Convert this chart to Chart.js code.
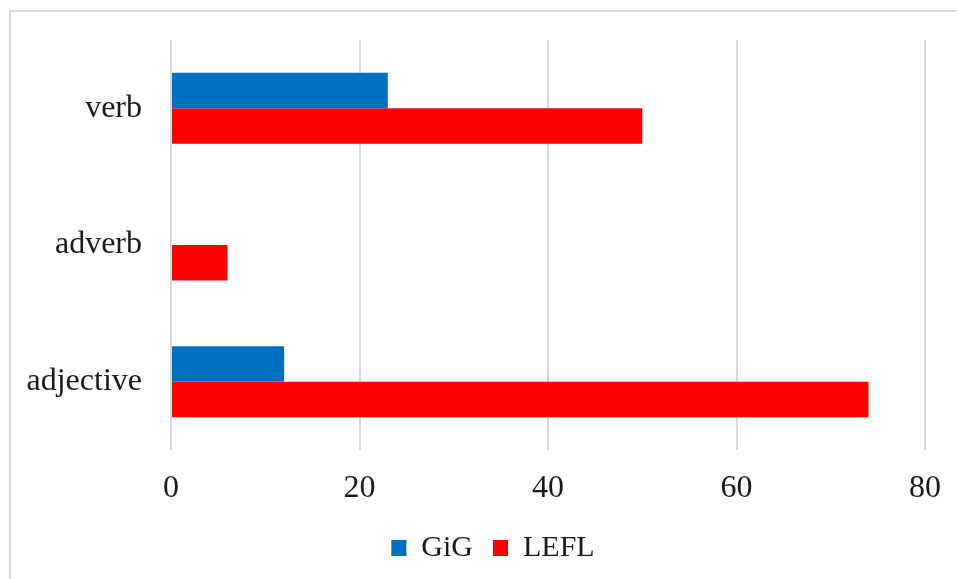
<!DOCTYPE html>
<html>
<head>
<meta charset="utf-8">
<script src="https://cdn.jsdelivr.net/npm/chart.js@4.4.1/dist/chart.umd.min.js"></script>
<style>
  html, body { margin: 0; padding: 0; background: #ffffff; }
  #wrap { width: 957px; height: 579px; position: relative; }
</style>
</head>
<body>
<div id="wrap"><canvas id="chart" width="957" height="579"></canvas></div>
<script>
// Word classes, top to bottom
const categories = ['verb', 'adverb', 'adjective'];
// Counts per corpus
const gigValues = [23, 0, 12];
const leflValues = [50, 6, 74];
// Value axis ticks
const xTicks = [0, 20, 40, 60, 80];

const FONT = "'Liberation Serif', 'Times New Roman', serif";
const TEXT = '#1a1a1a';
const GRID = '#d9d9d9';

// Light frame around the chart area (top and left edges)
const framePlugin = {
  id: 'frame',
  beforeDraw(chart) {
    const ctx = chart.ctx;
    ctx.save();
    ctx.strokeStyle = GRID;
    ctx.lineWidth = 2;
    ctx.beginPath();
    ctx.moveTo(10, chart.height + 5);
    ctx.lineTo(10, 11);
    ctx.lineTo(chart.width + 5, 11);
    ctx.stroke();
    ctx.restore();
  }
};

// Nudge the legend a little to the right
const legendShift = {
  id: 'legendShift',
  afterLayout(chart) {
    if (chart.legend) {
      chart.legend.left += 17;
      chart.legend.right += 17;
    }
  }
};

new Chart(document.getElementById('chart'), {
  type: 'bar',
  data: {
    labels: categories,
    datasets: [
      { label: 'GiG', data: gigValues, backgroundColor: '#0070C0', borderWidth: 0 },
      { label: 'LEFL', data: leflValues, backgroundColor: '#FF0000', borderWidth: 0 }
    ]
  },
  options: {
    indexAxis: 'y',
    responsive: false,
    animation: false,
    devicePixelRatio: 1,
    categoryPercentage: 0.52,
    barPercentage: 1.0,
    layout: { padding: { left: 27, right: 32, top: 40, bottom: 6 } },
    plugins: {
      legend: {
        position: 'bottom',
        labels: {
          font: { family: FONT, size: 30 },
          color: TEXT,
          boxWidth: 15,
          boxHeight: 16,
          padding: 20
        }
      },
      tooltip: { enabled: false }
    },
    scales: {
      x: {
        min: 0,
        max: 80,
        afterBuildTicks(scale) { scale.ticks = xTicks.map(v => ({ value: v })); },
        afterFit(scale) {
          scale.height = 63;
          scale.paddingLeft = 0;
          scale.paddingRight = 0;
        },
        grid: { color: GRID, lineWidth: 2, drawTicks: false },
        border: { display: false },
        ticks: { font: { family: FONT, size: 32 }, color: TEXT, padding: 19 }
      },
      y: {
        afterFit(scale) {
          scale.width = 144;
          scale.paddingTop = 0;
          scale.paddingBottom = 0;
        },
        grid: { display: false, drawTicks: false },
        border: { display: false },
        ticks: { font: { family: FONT, size: 32 }, color: TEXT, padding: 29 }
      }
    }
  },
  plugins: [framePlugin, legendShift]
});
</script>
</body>
</html>
